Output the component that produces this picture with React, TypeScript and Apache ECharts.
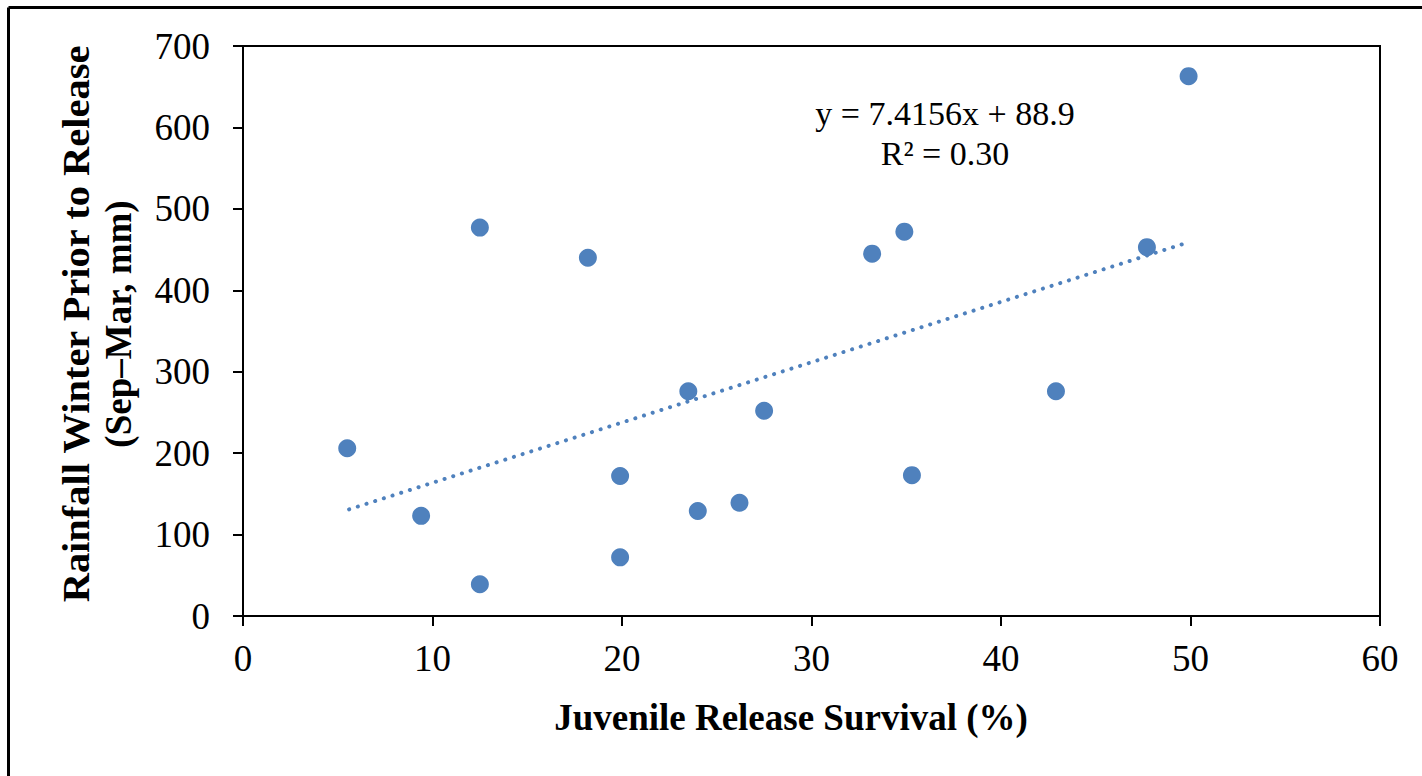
import React, { useEffect, useRef } from 'react';
import * as echarts from 'echarts';

const survival = [5.5, 9.4, 12.5, 12.5, 18.2, 19.9, 19.9, 23.5, 24.0, 26.2, 27.5, 33.2, 34.9, 35.3, 42.9, 47.7, 49.9];
const rainfall = [206, 123, 477, 39, 440, 172, 72, 276, 129, 139, 252, 445, 472, 173, 276, 453, 663];
const trendX = [5.6, 49.9];
const trendY = [131, 459];
const equationLines = ['y = 7.4156x + 88.9', 'R² = 0.30'];
const xTitle = 'Juvenile Release Survival (%)';
const yTitleLines = ['Rainfall Winter Prior to Release', '(Sep–Mar, mm)'];

const FONT = '"Liberation Serif", "Times New Roman", serif';
const BLUE = '#4F81BD';

export default function App() {
  const ref = useRef<HTMLDivElement>(null);
  useEffect(() => {
    if (!ref.current) return;
    const chart = echarts.init(ref.current, undefined, { renderer: 'svg' });
    const points = survival.map((x, i) => [x, rainfall[i]]);
    const trend = trendX.map((x, i) => [x, trendY[i]]);
    chart.setOption({
      animation: false,
      backgroundColor: '#fff',
      textStyle: { fontFamily: FONT },
      grid: {
        left: 243, right: 42, top: 46, bottom: 160,
        show: true, borderColor: '#000', borderWidth: 2, backgroundColor: 'transparent',
      },
      xAxis: {
        type: 'value', min: 0, max: 60, interval: 10,
        axisLine: { show: true, onZero: false, lineStyle: { color: '#000', width: 2 } },
        axisTick: { show: true, inside: false, length: 10, lineStyle: { color: '#000', width: 2 } },
        axisLabel: { color: '#000', fontSize: 37, fontFamily: FONT, margin: 24 },
        splitLine: { show: false },
      },
      yAxis: {
        type: 'value', min: 0, max: 700, interval: 100,
        axisLine: { show: true, onZero: false, lineStyle: { color: '#000', width: 2 } },
        axisTick: { show: true, inside: false, length: 10, lineStyle: { color: '#000', width: 2 } },
        axisLabel: { color: '#000', fontSize: 37, fontFamily: FONT, margin: 33 },
        splitLine: { show: false },
      },
      series: [
        {
          type: 'line', data: trend, symbol: 'none', silent: true, z: 1,
          lineStyle: { color: BLUE, width: 4, type: [0.1, 9], cap: 'round' },
        },
        {
          type: 'scatter', data: points, symbol: 'circle', symbolSize: 18, z: 2,
          itemStyle: { color: BLUE, opacity: 1 },
        },
      ],
      graphic: [
        { type: 'line', shape: { x1: 8.5, y1: 7.5, x2: 1430, y2: 7.5 }, style: { stroke: '#000', lineWidth: 3 } },
        { type: 'line', shape: { x1: 8.5, y1: 7.5, x2: 8.5, y2: 790 }, style: { stroke: '#000', lineWidth: 3 } },
        {
          type: 'text', x: 945, y: 113,
          style: { text: equationLines[0], font: `34px ${FONT}`, fill: '#000', align: 'center', verticalAlign: 'middle' },
        },
        {
          type: 'text', x: 945, y: 153,
          style: { text: equationLines[1], font: `34px ${FONT}`, fill: '#000', align: 'center', verticalAlign: 'middle' },
        },
        {
          type: 'text', x: 791, y: 717,
          style: { text: xTitle, font: `bold 37px ${FONT}`, fill: '#000', align: 'center', verticalAlign: 'middle' },
        },
        {
          type: 'text', x: 76, y: 324, rotation: Math.PI / 2, scaleX: 1.094,
          style: { text: yTitleLines[0], font: `bold 37px ${FONT}`, fill: '#000', align: 'center', verticalAlign: 'middle' },
        },
        {
          type: 'text', x: 118, y: 324, rotation: Math.PI / 2,
          style: { text: yTitleLines[1], font: `bold 37px ${FONT}`, fill: '#000', align: 'center', verticalAlign: 'middle' },
        },
      ],
    });
    return () => chart.dispose();
  }, []);
  return <div ref={ref} style={{ position: 'fixed', left: 0, top: 0, width: 1422, height: 776 }} />;
}
